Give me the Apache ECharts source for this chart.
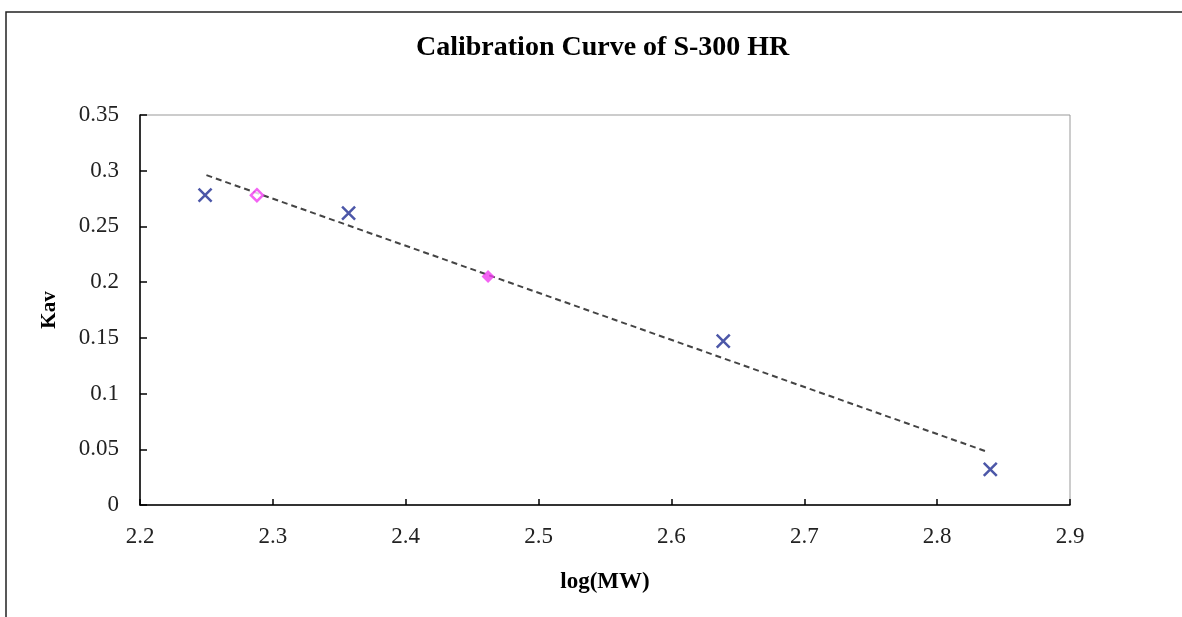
<!DOCTYPE html>
<html>
<head>
<meta charset="utf-8">
<script src="https://cdn.jsdelivr.net/npm/echarts@6/dist/echarts.min.js"></script>
<style>
  html, body { margin: 0; padding: 0; background: #fff; }
  #main-chart-1 { width: 1182px; height: 617px; }
</style>
</head>
<body>
<div id="main-chart-1"></div>
<script>
// Veriler
const titleText = "Calibration Curve of S-300 HR";
const xName = "log(MW)";
const yName = "Kav";

// mavi X noktalar (standartlar)
const stdPoints = [
    [2.249, 0.278],
    [2.357, 0.262],
    [2.639, 0.147],
    [2.840, 0.032]
];
// pembe baklava noktalar
const openDiamond = [[2.288, 0.278]];
const filledDiamond = [[2.462, 0.205]];
// trend çizgisi uçları
const trendLine = [[2.25, 0.296], [2.836, 0.0485]];

const xTicks = { min: 2.2, max: 2.9, interval: 0.1 };
const yTicks = { min: 0, max: 0.35, interval: 0.05 };

const crossPath = "path://M0,0 L10,10 M10,0 L0,10";
const serif = "Liberation Serif";

const chart = echarts.init(document.getElementById("main-chart-1"));

chart.setOption({
    animation: false,
    backgroundColor: "#fff",
    title: {
        text: titleText,
        left: 411,
        top: 29,
        textStyle: { fontFamily: serif, fontWeight: "bold", fontSize: 28, color: "#000" }
    },
    graphic: [{
        type: "rect",
        shape: { x: 6, y: 12, width: 1300, height: 800 },
        style: { fill: "none", stroke: "#222", lineWidth: 1.5 },
        silent: true
    }],
    grid: { left: 140, right: 112, top: 115, bottom: 112, show: true,
        borderColor: "#999", borderWidth: 1 },
    xAxis: {
        type: "value",
        min: xTicks.min, max: xTicks.max, interval: xTicks.interval,
        name: xName,
        nameLocation: "middle",
        nameGap: 66,
        nameTextStyle: { fontFamily: serif, fontWeight: "bold", fontSize: 23, color: "#000" },
        axisLine: { lineStyle: { color: "#000", width: 1.5 } },
        axisTick: { inside: true, length: 6, lineStyle: { color: "#000", width: 1.5 } },
        axisLabel: { fontFamily: serif, fontSize: 23, color: "#222", margin: 20,
            formatter: v => +v.toFixed(1) },
        splitLine: { show: false }
    },
    yAxis: {
        type: "value",
        min: yTicks.min, max: yTicks.max, interval: yTicks.interval,
        name: yName,
        nameLocation: "middle",
        nameGap: 80,
        nameTextStyle: { fontFamily: serif, fontWeight: "bold", fontSize: 21, color: "#000" },
        axisLine: { show: true, lineStyle: { color: "#000", width: 1.5 } },
        axisTick: { show: true, inside: true, length: 7, lineStyle: { color: "#000", width: 1.5 } },
        axisLabel: { fontFamily: serif, fontSize: 23, color: "#222", margin: 21,
            formatter: v => +v.toFixed(2) },
        splitLine: { show: false }
    },
    series: [
        {
            type: "line",
            data: trendLine,
            symbol: "none",
            lineStyle: { color: "#444", width: 2, type: [6, 4] },
            z: 1
        },
        {
            type: "scatter",
            data: stdPoints,
            symbol: crossPath,
            symbolSize: 13,
            itemStyle: { color: "none", borderColor: "#1f2d92", borderWidth: 2.5 },
            z: 3
        },
        {
            type: "scatter",
            data: openDiamond,
            symbol: "diamond",
            symbolSize: 12,
            itemStyle: { color: "#fff", borderColor: "#f03cf0", borderWidth: 2.5 },
            z: 3
        },
        {
            type: "scatter",
            data: filledDiamond,
            symbol: "diamond",
            symbolSize: 13,
            itemStyle: { color: "#f03cf0" },
            z: 3
        }
    ]
});
</script>
</body>
</html>
